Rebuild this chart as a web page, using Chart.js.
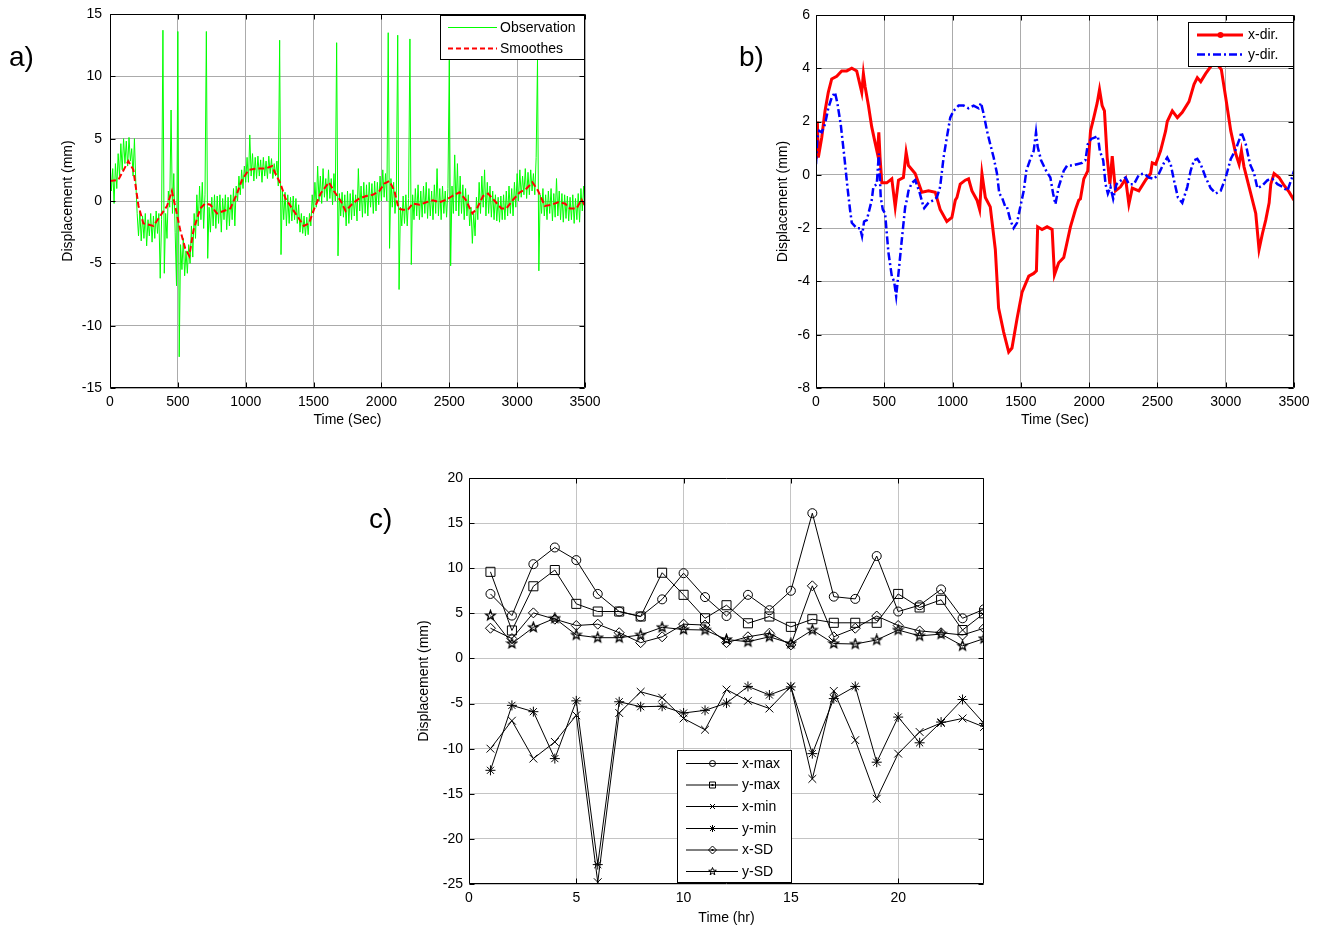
<!DOCTYPE html>
<html><head><meta charset="utf-8">
<script src="https://cdn.jsdelivr.net/npm/chart.js@4.4.1/dist/chart.umd.min.js"></script>
<style>
html,body{margin:0;padding:0;background:#fff;width:1317px;height:932px;overflow:hidden;position:relative;}
canvas{position:absolute;}
.lbl{position:absolute;font-family:"Liberation Sans",Arial,sans-serif;font-size:28px;line-height:28px;color:#000;}
</style></head><body>
<canvas id="ca" width="620" height="445" style="left:0;top:0"></canvas>
<canvas id="cb" width="617" height="445" style="left:700px;top:0"></canvas>
<canvas id="cc" width="660" height="472" style="left:360px;top:460px"></canvas>
<div class="lbl" style="left:9px;top:43px">a)</div>
<div class="lbl" style="left:739px;top:43px">b)</div>
<div class="lbl" style="left:369px;top:505px">c)</div>
<script>
// ---------------- DATA ----------------
// Panel a: observation sampled every obsStep seconds, and smoothed curve
const obsStep = 10;
const obsValues = [
 3.5,0.8,2.6,-0.2,3.0,1.0,3.8,2.0,4.6,2.5,
 5.0,3.0,4.8,2.8,5.1,3.2,4.2,2.0,5.0,1.5,
 -1.0,-2.8,-0.8,-3.2,-1.2,-3.0,-1.0,-3.6,-1.5,-2.8,
 -1.0,-3.3,-1.2,-3.0,-0.8,-2.6,-1.0,-6.2,-1.5,13.7,
 -5.8,-1.0,-3.0,0.8,-0.5,7.3,-1.0,2.2,-2.5,-6.8,
 13.6,-12.5,-3.5,-5.5,-3.0,-6.0,-4.0,-5.8,-3.5,-5.0,
 -2.0,-4.5,-1.0,-3.0,0.5,-2.0,1.2,-1.5,1.5,-2.2,
 0.5,13.6,-4.6,-0.5,-2.5,0.3,-2.0,0.5,-2.2,0.4,
 -1.8,0.5,-2.5,0.2,-1.5,0.5,-2.3,0.3,-2.0,0.5,
 -1.5,1.0,-2.0,1.2,0.0,2.0,0.5,2.5,1.0,2.8,
 1.5,3.5,1.5,5.3,2.0,3.8,1.6,3.5,1.8,3.6,
 2.0,3.3,1.5,3.5,2.0,3.2,1.8,3.6,2.2,3.4,
 1.8,3.0,2.0,3.2,1.2,12.9,-4.3,0.8,-1.5,0.7,
 -2.0,0.5,-1.8,0.3,-1.6,0.4,-1.5,0.2,-1.8,-0.3,
 -2.5,-1.0,-2.6,-1.2,-2.8,-1.3,-2.7,-1.0,-2.0,0.5,
 -1.0,1.5,-0.5,2.8,0.0,2.0,-0.2,2.6,0.3,1.8,
 0.0,2.5,0.2,1.8,-0.3,2.2,0.0,12.7,-4.4,0.6,
 -1.2,0.7,-1.3,0.5,-2.0,0.8,-1.8,0.6,-1.5,0.9,
 -1.2,0.5,-1.6,2.6,-0.8,1.2,-1.3,1.5,-1.0,1.3,
 -1.2,1.5,-0.5,1.4,-1.0,1.6,-0.8,1.5,-0.3,2.0,
 0.0,2.5,0.3,2.2,0.0,13.5,-3.8,1.8,-0.5,1.5,
 -1.0,0.8,13.3,-7.1,-0.5,-2.0,0.4,-1.8,0.5,-2.0,
 0.2,13.0,-5.1,0.5,-1.5,1.0,-1.2,1.3,-1.5,0.8,
 -1.3,1.2,-1.0,1.5,-1.4,1.0,-1.2,0.8,-1.5,1.3,
 -1.0,2.6,-1.2,1.0,-1.5,1.2,-1.0,0.8,-1.3,1.0,
 11.3,-5.2,1.2,-1.0,3.7,-0.8,3.0,-1.2,2.0,-1.0,
 1.3,-1.5,1.0,-1.2,0.5,-2.0,-0.5,-3.4,-1.0,-2.8,
 0.3,-1.5,1.5,-1.0,2.0,-0.5,2.5,-1.2,1.5,-1.0,
 1.2,-1.3,0.8,-1.5,0.5,-1.6,0.3,-1.7,0.4,-1.5,
 0.5,-1.5,0.8,-1.2,1.2,-1.0,1.0,-1.2,1.5,-0.5,
 2.2,0.0,2.5,0.3,2.0,0.5,2.6,0.2,2.3,0.5,
 2.5,0.8,2.2,0.5,3.5,11.3,-5.6,0.5,-1.0,1.0,
 -1.2,0.5,-1.5,0.8,-1.0,1.0,-1.6,0.6,-1.3,1.8,
 -1.2,0.8,-1.5,0.6,-1.7,0.5,-1.4,0.4,-1.6,0.3,
 -1.5,0.5,-1.8,0.2,-1.5,0.6,-1.7,1.0,-0.8,1.2,
 -0.5
];
const smoothPoints = [
 [0,1.6],[62,1.7],[135,3.2],[172,2.5],[210,-0.4],[246,-1.8],[320,-2.0],[370,-1.2],[420,-0.4],[456,0.8],
 [480,-0.4],[517,-2.3],[554,-3.8],[584,-4.4],[616,-2.3],[665,-0.6],[702,-0.2],[739,-0.3],[788,-1.0],[837,-0.8],
 [887,-0.6],[936,0.6],[973,1.7],[1022,2.5],[1084,2.6],[1145,2.6],[1195,2.8],[1219,2.2],[1256,1.4],[1293,0.2],
 [1330,-0.4],[1379,-1.2],[1428,-2.0],[1466,-1.8],[1502,-0.7],[1552,0.6],[1613,1.5],[1650,0.8],[1700,0.0],[1736,-0.8],
 [1788,-0.2],[1837,0.2],[1887,0.4],[1936,0.5],[1985,0.8],[2022,1.4],[2059,1.6],[2096,0.8],[2126,-0.6],[2158,-0.7],
 [2195,-0.7],[2231,-0.2],[2281,-0.3],[2330,-0.1],[2379,0.05],[2429,-0.1],[2478,0.1],[2522,0.4],[2576,0.7],[2621,0.1],
 [2670,-1.0],[2704,-0.6],[2749,0.4],[2786,0.6],[2835,0.0],[2884,-0.6],[2921,-0.6],[2970,0.1],[3020,0.7],[3069,1.0],
 [3113,1.5],[3155,0.8],[3204,-0.4],[3254,-0.3],[3303,-0.1],[3352,-0.2],[3389,-0.6],[3438,-0.6],[3475,0.1],[3500,-0.4]
];
const legendA = ['Observation','Smoothes'];
const ticksAx = [0,500,1000,1500,2000,2500,3000,3500];
const ticksAy = [-15,-10,-5,0,5,10,15];

// Panel b: x- and y-direction displacement
const xDirPoints = [
 [0,0.6],[10,2.0],[17,0.65],[42,1.4],[66,2.4],[90,3.1],[115,3.6],[152,3.7],[188,3.9],[225,3.9],
 [262,4.0],[298,3.9],[335,3.1],[347,3.8],[360,3.3],[384,2.6],[408,1.8],[433,1.2],[450,0.8],[460,1.6],
 [469,0.65],[482,-0.3],[518,-0.3],[555,-0.15],[580,-1.2],[604,-0.2],[640,-0.1],[660,0.85],[677,0.35],[726,0.05],
 [775,-0.65],[824,-0.6],[873,-0.65],[909,-1.3],[958,-1.75],[995,-1.6],[1020,-0.95],[1032,-0.85],[1056,-0.35],[1093,-0.2],
 [1117,-0.15],[1142,-0.6],[1179,-0.95],[1198,-1.3],[1215,0.05],[1240,-0.85],[1276,-1.2],[1313,-2.8],[1337,-5.0],[1374,-5.9],
 [1411,-6.65],[1435,-6.5],[1472,-5.4],[1509,-4.4],[1558,-3.8],[1594,-3.7],[1614,-3.6],[1623,-1.95],[1655,-2.05],[1692,-1.95],
 [1729,-2.05],[1746,-3.75],[1777,-3.3],[1814,-3.1],[1863,-1.95],[1900,-1.3],[1924,-0.95],[1936,-0.9],[1961,-0.15],[1990,0.15],
 [2010,1.65],[2034,2.15],[2059,2.7],[2076,3.2],[2095,2.6],[2112,2.4],[2132,0.65],[2152,-0.35],[2169,0.7],[2193,-0.6],
 [2230,-0.45],[2267,-0.15],[2291,-1.1],[2316,-0.5],[2364,-0.6],[2413,-0.2],[2450,0.05],[2462,0.45],[2487,0.4],[2523,0.9],
 [2560,1.65],[2572,2.0],[2609,2.4],[2646,2.15],[2682,2.35],[2731,2.75],[2768,3.4],[2792,3.65],[2817,3.5],[2853,3.8],
 [2902,4.15],[2939,4.15],[2968,3.95],[3000,2.9],[3037,1.65],[3073,0.8],[3098,0.4],[3115,0.9],[3134,0.3],[3171,-0.45],
 [3208,-1.2],[3220,-1.45],[3244,-2.8],[3269,-2.2],[3293,-1.7],[3318,-1.05],[3330,-0.35],[3354,0.05],[3391,-0.1],[3428,-0.4],
 [3465,-0.65],[3500,-0.95]
];
const yDirPoints = [
 [0,0.4],[10,1.4],[24,1.65],[42,1.6],[66,1.9],[90,2.5],[115,2.9],[139,3.1],[156,2.7],[181,1.9],
 [205,0.8],[230,-0.45],[249,-1.3],[262,-1.8],[298,-2.0],[323,-2.0],[337,-2.3],[352,-1.75],[372,-1.7],[396,-1.2],
 [408,-0.95],[420,-0.45],[445,-0.35],[460,0.8],[474,-0.85],[489,-1.3],[506,-1.45],[530,-2.9],[555,-3.8],[572,-4.0],
 [587,-4.55],[604,-3.7],[628,-2.45],[653,-1.2],[665,-0.95],[677,-0.6],[702,-0.3],[726,-0.2],[758,-0.65],[787,-1.2],
 [792,-1.25],[824,-1.05],[861,-0.95],[885,-0.85],[909,-0.45],[934,0.65],[958,1.4],[983,2.15],[1007,2.4],[1044,2.6],
 [1081,2.6],[1117,2.5],[1154,2.6],[1191,2.5],[1208,2.7],[1227,2.3],[1252,1.65],[1276,1.15],[1301,0.65],[1325,0.05],
 [1342,-0.7],[1362,-0.85],[1386,-1.2],[1398,-1.2],[1423,-1.7],[1447,-2.0],[1472,-1.8],[1496,-1.2],[1521,-0.6],[1540,0.15],
 [1570,0.6],[1594,0.9],[1611,1.6],[1623,1.05],[1648,0.55],[1680,0.2],[1716,-0.1],[1736,-0.7],[1753,-1.1],[1777,-0.45],
 [1814,0.15],[1839,0.35],[1875,0.35],[1912,0.4],[1949,0.45],[1973,0.55],[1990,1.15],[2015,1.35],[2039,1.4],[2064,1.45],
 [2078,0.9],[2103,0.55],[2120,-0.35],[2137,-0.7],[2156,-0.45],[2176,-0.9],[2200,-0.35],[2235,-0.2],[2267,-0.1],[2291,-0.35],
 [2328,-0.35],[2364,0.0],[2401,0.05],[2438,-0.1],[2474,-0.15],[2511,0.05],[2548,0.45],[2572,0.65],[2597,0.4],[2621,-0.2],
 [2650,-0.85],[2682,-1.05],[2719,-0.45],[2743,0.15],[2768,0.55],[2792,0.6],[2817,0.4],[2853,-0.1],[2890,-0.5],[2927,-0.7],
 [2963,-0.6],[3000,-0.1],[3037,0.6],[3073,0.95],[3098,1.3],[3115,1.6],[3147,1.15],[3178,0.4],[3208,0.05],[3232,-0.5],
 [3269,-0.4],[3306,-0.2],[3342,-0.15],[3379,-0.35],[3416,-0.45],[3452,-0.6],[3482,-0.15],[3500,0.15]
];
const legendB = ['x-dir.','y-dir.'];
const ticksBx = [0,500,1000,1500,2000,2500,3000,3500];
const ticksBy = [-8,-6,-4,-2,0,2,4,6];

// Panel c: hourly statistics
const hours = [1,2,3,4,5,6,7,8,9,10,11,12,13,14,15,16,17,18,19,20,21,22,23,24];
const xMax = [7.15,4.75,10.45,12.3,10.9,7.15,5.2,4.65,6.55,9.45,6.8,4.7,7.05,5.35,7.5,16.1,6.85,6.6,11.35,5.2,5.9,7.65,4.45,5.45];
const yMax = [9.6,3.1,8.0,9.8,6.05,5.2,5.2,4.65,9.5,7.05,4.45,5.9,3.9,4.65,3.5,4.35,3.95,3.95,3.95,7.15,5.65,6.5,3.15,5.0];
const xMin = [-10.0,-6.9,-11.1,-9.25,-6.3,-24.8,-6.05,-3.7,-4.35,-6.65,-7.9,-3.45,-4.7,-5.55,-3.1,-13.35,-3.6,-9.05,-15.55,-10.55,-8.15,-7.15,-6.65,-7.6];
const yMin = [-12.4,-5.2,-5.9,-11.1,-4.7,-22.85,-4.8,-5.35,-5.3,-6.05,-5.75,-4.95,-3.1,-4.05,-3.15,-10.55,-4.45,-3.1,-11.5,-6.5,-9.35,-7.05,-4.55,-7.2];
const xSD = [3.35,2.2,5.05,4.35,3.65,3.8,2.85,1.75,2.4,3.8,3.7,1.75,2.4,2.8,1.5,8.05,2.4,3.35,4.7,3.65,3.05,2.85,2.6,3.35];
const ySD = [4.75,1.65,3.45,4.45,2.6,2.3,2.3,2.6,3.45,3.2,3.15,2.1,1.85,2.4,1.65,3.15,1.65,1.6,2.05,3.15,2.5,2.7,1.4,2.2];
const legendC = ['x-max','y-max','x-min','y-min','x-SD','y-SD'];
const ticksCx = [0,5,10,15,20];
const ticksCy = [-25,-20,-15,-10,-5,0,5,10,15,20];

// ---------------- HELPERS ----------------
const FONT = '"Liberation Sans", Arial, sans-serif';
Chart.defaults.font.family = FONT;
Chart.defaults.font.size = 14;
Chart.defaults.color = '#000';

const pts = arr => arr.map(p => ({x: p[0], y: p[1]}));

function makeStar(r, lw) {
  const s = 2 * Math.ceil(r) + 3;
  const c = document.createElement('canvas'); c.width = s; c.height = s;
  const g = c.getContext('2d'); const m = s / 2;
  g.strokeStyle = '#000'; g.lineWidth = lw; g.beginPath();
  for (let k = 0; k < 10; k++) { const a = -Math.PI/2 + k*Math.PI/5; const rr = k % 2 ? r*0.42 : r;
    const px = m + rr*Math.cos(a), py = m + rr*Math.sin(a); if (k) g.lineTo(px,py); else g.moveTo(px,py); }
  g.closePath(); g.stroke();
  return c;
}

function drawLegendMarker(ctx, kind, x, y) {
  ctx.save(); ctx.strokeStyle = '#000'; ctx.fillStyle = '#000'; ctx.lineWidth = 1; ctx.beginPath();
  if (kind === 'circle') ctx.arc(x, y, 3, 0, Math.PI * 2);
  else if (kind === 'rect') { ctx.rect(x - 3, y - 3, 6, 6); }
  else if (kind === 'crossRot') { ctx.moveTo(x-2.5,y-2.5); ctx.lineTo(x+2.5,y+2.5); ctx.moveTo(x+2.5,y-2.5); ctx.lineTo(x-2.5,y+2.5); }
  else if (kind === 'star') { const r = 3.5, d = r*0.72; ctx.moveTo(x-r,y); ctx.lineTo(x+r,y); ctx.moveTo(x,y-r); ctx.lineTo(x,y+r);
    ctx.moveTo(x-d,y-d); ctx.lineTo(x+d,y+d); ctx.moveTo(x+d,y-d); ctx.lineTo(x-d,y+d); }
  else if (kind === 'rectRot') { ctx.moveTo(x,y-4); ctx.lineTo(x+4,y); ctx.lineTo(x,y+4); ctx.lineTo(x-4,y); ctx.closePath(); }
  ctx.stroke();
  if (kind === 'rect' || kind === 'rectRot') ctx.fillRect(x - 1, y - 1, 2, 2);
  ctx.restore();
}

function scaleX(min, max, tickArr, title, H, pad, grid) {
  return { type: 'linear', min, max,
    afterBuildTicks: s => { s.ticks = tickArr.map(v => ({value: v})); },
    afterFit: s => { s.height = H; s.paddingLeft = 0; s.paddingRight = 0; },
    ticks: { autoSkip: false, maxRotation: 0, padding: pad, color: '#000', font: {size: 14}, callback: v => String(v) },
    grid: { color: grid, lineWidth: 1, drawTicks: false },
    border: { display: false },
    title: { display: true, text: title, color: '#000', font: {size: 14}, padding: 0 } };
}
function scaleY(min, max, tickArr, title, W, pad, grid) {
  return { type: 'linear', min, max,
    afterBuildTicks: s => { s.ticks = tickArr.map(v => ({value: v})); },
    afterFit: s => { s.width = W; s.paddingTop = 0; s.paddingBottom = 0; },
    ticks: { autoSkip: false, padding: pad, color: '#000', font: {size: 14}, callback: v => String(v) },
    grid: { color: grid, lineWidth: 1, drawTicks: false },
    border: { display: false },
    title: { display: true, text: title, color: '#000', font: {size: 14}, padding: 0 } };
}

const framePlugin = {
  id: 'frame',
  afterDraw(chart) {
    const {ctx, chartArea: a} = chart; const xs = chart.scales.x, ys = chart.scales.y;
    const L = Math.round(a.left) + 0.5, R = Math.round(a.right) - 0.5, T = Math.round(a.top) + 0.5, B = Math.round(a.bottom) - 0.5;
    ctx.save(); ctx.strokeStyle = '#000'; ctx.lineWidth = 1; ctx.beginPath();
    ctx.rect(L, T, R - L, B - T);
    const tl = 5;
    xs.ticks.forEach(t => { const p = Math.round(xs.getPixelForValue(t.value)) + 0.5;
      ctx.moveTo(p, B); ctx.lineTo(p, B - tl); ctx.moveTo(p, T); ctx.lineTo(p, T + tl); });
    ys.ticks.forEach(t => { const p = Math.round(ys.getPixelForValue(t.value)) + 0.5;
      ctx.moveTo(L, p); ctx.lineTo(L + tl, p); ctx.moveTo(R, p); ctx.lineTo(R - tl, p); });
    ctx.stroke(); ctx.restore();
  }
};

function legendPlugin(cfg) {
  return { id: 'boxLegend', afterDraw(chart) {
    const ctx = chart.ctx; ctx.save();
    ctx.fillStyle = '#fff'; ctx.fillRect(cfg.x, cfg.y, cfg.w, cfg.h);
    ctx.strokeStyle = '#000'; ctx.lineWidth = 1; ctx.setLineDash([]);
    ctx.strokeRect(cfg.x + 0.5, cfg.y + 0.5, cfg.w, cfg.h);
    chart.data.datasets.forEach((ds, i) => {
      const it = cfg.items[i]; const yy = cfg.rows[i]; const mx = Math.round((cfg.l0 + cfg.l1) / 2) + 0.5;
      ctx.save(); ctx.strokeStyle = it.color || ds.borderColor; ctx.lineWidth = it.lw; ctx.setLineDash(it.dash || []);
      ctx.beginPath(); ctx.moveTo(cfg.l0, yy); ctx.lineTo(cfg.l1, yy); ctx.stroke(); ctx.restore();
      if (it.dot) { ctx.fillStyle = ds.borderColor; ctx.beginPath(); ctx.arc(mx, yy, it.dot, 0, Math.PI * 2); ctx.fill(); }
      if (it.marker) {
        if (typeof it.marker === 'string') drawLegendMarker(ctx, it.marker, mx, yy);
        else ctx.drawImage(it.marker, Math.round(mx - it.marker.width / 2), Math.round(yy - it.marker.height / 2));
      }
      ctx.fillStyle = '#000'; ctx.font = '14px ' + FONT; ctx.textBaseline = 'middle'; ctx.textAlign = 'left';
      ctx.fillText(ds.label, cfg.tx, yy + 0.5);
    });
    ctx.restore();
  }};
}

const baseOpts = (padding, scales) => ({
  responsive: false, animation: false, events: [],
  layout: { padding },
  plugins: { legend: { display: false }, tooltip: { enabled: false } },
  scales
});

// ---------------- PANEL A ----------------
new Chart(document.getElementById('ca'), {
  type: 'line',
  data: { datasets: [
    { label: legendA[0], data: obsValues.map((v, i) => ({x: i * obsStep, y: v})), borderColor: '#00ff00', borderWidth: 1, pointRadius: 0, tension: 0, order: 2 },
    { label: legendA[1], data: pts(smoothPoints), borderColor: '#ff0000', borderWidth: 2, borderDash: [6, 3], pointRadius: 0, tension: 0, order: 1 }
  ]},
  options: baseOpts({left: 60, top: 14, right: 35, bottom: 16}, {
    x: scaleX(0, 3500, ticksAx, 'Time (Sec)', 41, 6, '#ababab'),
    y: scaleY(-15, 15, ticksAy, 'Displacement (mm)', 50, 8, '#ababab')
  }),
  plugins: [framePlugin, legendPlugin({x: 440, y: 15, w: 144, h: 44, rows: [27.5, 48.5], l0: 448, l1: 497, tx: 500,
    items: [{lw: 1, color: '#00ff00'}, {lw: 2, dash: [5, 3]}]})]
});

// ---------------- PANEL B ----------------
new Chart(document.getElementById('cb'), {
  type: 'line',
  data: { datasets: [
    { label: legendB[0], data: pts(xDirPoints), borderColor: '#ff0000', borderWidth: 3, pointRadius: 0, tension: 0, order: 2 },
    { label: legendB[1], data: pts(yDirPoints), borderColor: '#0000ff', borderWidth: 2.5, borderDash: [8, 3, 2, 3], pointRadius: 0, tension: 0, order: 1 }
  ]},
  options: baseOpts({left: 75, top: 15, right: 23, bottom: 16}, {
    x: scaleX(0, 3500, ticksBx, 'Time (Sec)', 41, 6, '#ababab'),
    y: scaleY(-8, 6, ticksBy, 'Displacement (mm)', 41, 6, '#ababab')
  }),
  plugins: [framePlugin, legendPlugin({x: 488, y: 22, w: 105, h: 44, rows: [35, 54.5], l0: 497, l1: 543, tx: 548,
    items: [{lw: 3, dot: 3}, {lw: 2.5, dash: [8, 3, 2, 3]}]})]
});

// ---------------- PANEL C ----------------
const starPlot = makeStar(5, 1.3);
const starLegend = makeStar(4, 1);
const seriesC = [xMax, yMax, xMin, yMin, xSD, ySD];
const pointStylesC = ['circle', 'rect', 'crossRot', 'star', 'rectRot', starPlot];
const pointRadiiC = [4.5, 6.4, 5.5, 5, 5, 5];
new Chart(document.getElementById('cc'), {
  type: 'line',
  data: { datasets: seriesC.map((arr, i) => ({
    label: legendC[i], data: hours.map((h, j) => ({x: h, y: arr[j]})),
    borderColor: '#000', borderWidth: 1, tension: 0,
    pointStyle: pointStylesC[i], pointRadius: pointRadiiC[i], pointBorderWidth: 1,
    pointBackgroundColor: 'rgba(0,0,0,0)', pointBorderColor: '#000'
  }))},
  options: baseOpts({left: 56, top: 18, right: 36, bottom: 5}, {
    x: scaleX(0, 24, ticksCx, 'Time (hr)', 43, 6, '#c4c4c4'),
    y: scaleY(-25, 20, ticksCy, 'Displacement (mm)', 53, 6, '#c4c4c4')
  }),
  plugins: [framePlugin, legendPlugin({x: 317, y: 290, w: 114, h: 132, rows: [303.5, 325, 346.5, 368.5, 390, 411.5], l0: 326, l1: 378, tx: 382,
    items: ['circle', 'rect', 'crossRot', 'star', 'rectRot', starLegend].map(k => ({lw: 1, marker: k}))})]
});
</script>
</body></html>
